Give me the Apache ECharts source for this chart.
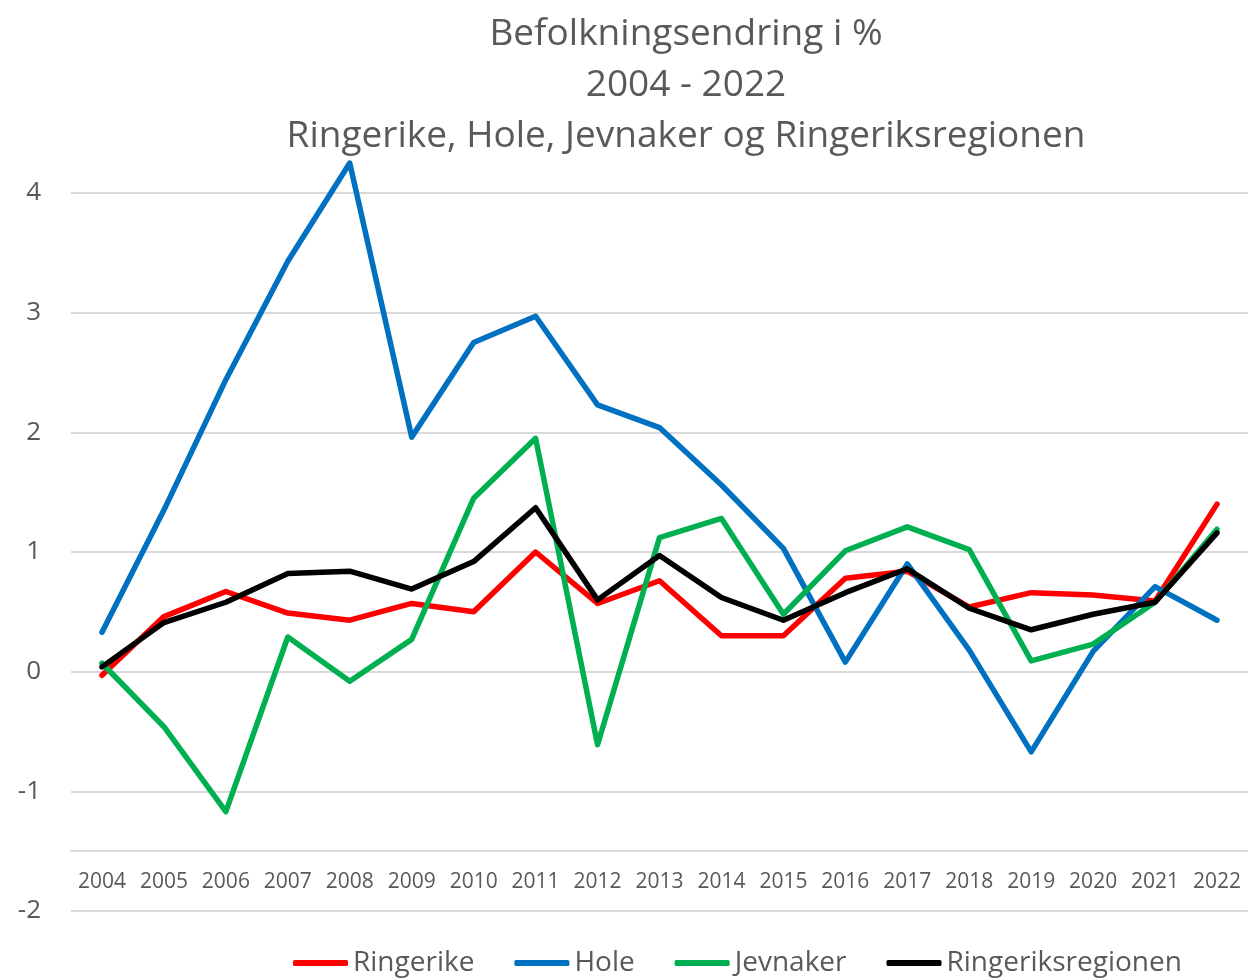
<!DOCTYPE html>
<html>
<head>
<meta charset="utf-8">
<script src="https://cdn.jsdelivr.net/npm/echarts@6/dist/echarts.min.js"></script>
<style>
	html, body { margin: 0; padding: 0; background: #fff; }
	#chart { width: 1248px; height: 978px; }
</style>
</head>
<body>
<div id="chart"></div>
<script>
	// år
	const years = ['2004', '2005', '2006', '2007', '2008', '2009', '2010', '2011', '2012', '2013',
		'2014', '2015', '2016', '2017', '2018', '2019', '2020', '2021', '2022']
	// befolkningsendring i % per kommune
	const ringerike = [-0.03, 0.46, 0.67, 0.49, 0.43, 0.57, 0.50, 1.00, 0.57, 0.76,
		0.30, 0.30, 0.78, 0.84, 0.54, 0.66, 0.64, 0.59, 1.40]
	const hole = [0.33, 1.35, 2.44, 3.43, 4.25, 1.96, 2.75, 2.97, 2.23, 2.04,
		1.56, 1.03, 0.08, 0.90, 0.18, -0.67, 0.17, 0.71, 0.43]
	const jevnaker = [0.07, -0.46, -1.17, 0.29, -0.08, 0.27, 1.45, 1.95, -0.61, 1.12,
		1.28, 0.48, 1.01, 1.21, 1.02, 0.09, 0.23, 0.58, 1.19]
	const regionen = [0.04, 0.41, 0.58, 0.82, 0.84, 0.69, 0.92, 1.37, 0.60, 0.97,
		0.62, 0.43, 0.66, 0.86, 0.53, 0.35, 0.48, 0.58, 1.16]

	const font = "'Open Sans', 'Noto Sans', sans-serif"
	const textColor = '#595959'

	const makeSeries = (name, data, color) => ({
		name: name,
		type: 'line',
		data: data,
		symbol: 'none',
		clip: false,
		color: color,
		lineStyle: {
			width: 5.5,
			color: color,
			cap: 'round',
			join: 'round'
		},
		emphasis: { disabled: true }
	})

	const myChart = echarts.init(document.getElementById('chart'))
	myChart.setOption({
		animation: false,
		textStyle: { fontFamily: font },
		title: {
			text: 'Befolkningsendring i %\n2004 - 2022\nRingerike, Hole, Jevnaker og Ringeriksregionen',
			left: 681,
			top: 4,
			textAlign: 'center',
			textStyle: {
				fontFamily: font,
				fontSize: 37,
				fontWeight: 'normal',
				color: textColor,
				lineHeight: 51
			}
		},
		legend: {
			left: 288,
			top: 944,
			itemWidth: 55,
			itemHeight: 6,
			itemGap: 40,
			icon: 'roundRect',
			textStyle: {
				fontFamily: font,
				fontSize: 28,
				color: textColor
			},
			data: ['Ringerike', 'Hole', 'Jevnaker', 'Ringeriksregionen']
		},
		grid: {
			left: 71,
			top: 193,
			width: 1186,
			height: 718
		},
		xAxis: {
			type: 'category',
			data: years,
			offset: -60,
			axisLine: { show: true, onZero: false, lineStyle: { color: '#d9d9d9', width: 2 } },
			axisTick: { show: false },
			axisLabel: {
				interval: 0,
				margin: 21,
				fontFamily: font,
				fontSize: 21,
				color: textColor
			}
		},
		yAxis: {
			type: 'value',
			min: -2,
			max: 4,
			interval: 1,
			axisLine: { show: false },
			axisTick: { show: false },
			splitLine: { lineStyle: { color: '#d9d9d9', width: 2 } },
			axisLabel: {
				margin: 30,
				fontFamily: font,
				fontSize: 26,
				color: textColor
			}
		},
		series: [
			makeSeries('Ringerike', ringerike, '#ff0000'),
			makeSeries('Hole', hole, '#0070c0'),
			makeSeries('Jevnaker', jevnaker, '#00b050'),
			makeSeries('Ringeriksregionen', regionen, '#000000')
		]
	})
</script>
</body>
</html>
